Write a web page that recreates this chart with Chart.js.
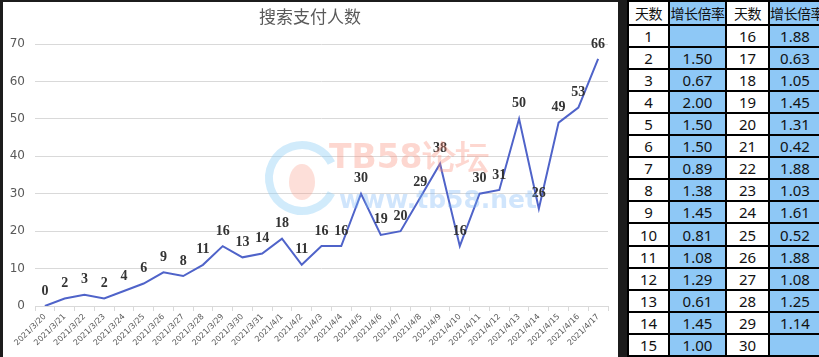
<!DOCTYPE html>
<html><head><meta charset="utf-8">
<script src="https://cdn.jsdelivr.net/npm/chart.js@4.4.0/dist/chart.umd.min.js"></script>
<style>
html,body{margin:0;padding:0;background:#1c1c1c;width:819px;height:357px;overflow:hidden;}
#wrap{position:absolute;left:3px;top:2px;width:615px;height:355px;background:#fff;}
#tbl{position:absolute;left:627px;top:0;width:193px;height:357px;border-collapse:collapse;table-layout:fixed;background:#fff;}
#tbl td{border:2px solid #000;padding:0;text-align:center;color:#111;font-family:"Noto Sans","Noto Sans CJK SC",sans-serif;font-size:15px;height:20px;line-height:20px;overflow:hidden;white-space:nowrap;}
#tbl tr.h td{height:22px;font-family:"Noto Sans CJK SC",sans-serif;font-size:14px;letter-spacing:-0.5px;}
#tbl td.b{background:#8ec8f6;}
</style></head>
<body>
<div id="wrap"><canvas id="c" width="615" height="355"></canvas></div>
<table id="tbl"><colgroup><col style="width:41px"><col style="width:57px"><col style="width:43px"><col style="width:52px"></colgroup><tbody id="tb"></tbody></table>
<script>
const chartTitle = "搜索支付人数";
const dates = ["2021/3/20","2021/3/21","2021/3/22","2021/3/23","2021/3/24","2021/3/25","2021/3/26","2021/3/27","2021/3/28","2021/3/29","2021/3/30","2021/3/31","2021/4/1","2021/4/2","2021/4/3","2021/4/4","2021/4/5","2021/4/6","2021/4/7","2021/4/8","2021/4/9","2021/4/10","2021/4/11","2021/4/12","2021/4/13","2021/4/14","2021/4/15","2021/4/16","2021/4/17"];
const payers = [0,2,3,2,4,6,9,8,11,16,13,14,18,11,16,16,30,19,20,29,38,16,30,31,50,26,49,53,66];
const yTicks = [0,10,20,30,40,50,60,70];
const tableHeaders = ["天数","增长倍率","天数","增长倍率"];
const daysA = [1,2,3,4,5,6,7,8,9,10,11,12,13,14,15];
const ratesA = ["","1.50","0.67","2.00","1.50","1.50","0.89","1.38","1.45","0.81","1.08","1.29","0.61","1.45","1.00"];
const daysB = [16,17,18,19,20,21,22,23,24,25,26,27,28,29,30];
const ratesB = ["1.88","0.63","1.05","1.45","1.31","0.42","1.88","1.03","1.61","0.52","1.88","1.08","1.25","1.14",""];

// table
const tb = document.getElementById('tb');
let hr = document.createElement('tr'); hr.className='h';
tableHeaders.forEach((t,i)=>{const td=document.createElement('td');td.textContent=t;if(i%2===1)td.className='b';hr.appendChild(td);});
tb.appendChild(hr);
for(let i=0;i<daysA.length;i++){
  const tr=document.createElement('tr');
  [[daysA[i],''],[ratesA[i],'b'],[daysB[i],''],[ratesB[i],'b']].forEach(([v,c])=>{const td=document.createElement('td');td.textContent=v;td.className=c;tr.appendChild(td);});
  tb.appendChild(tr);
}

const deco = {
  id:'deco',
  afterDatasetsDraw(chart){
    const ctx=chart.ctx; const meta=chart.getDatasetMeta(0);
    ctx.save();
    ctx.fillStyle='#333333'; ctx.font='bold 14px "Liberation Serif", serif';
    ctx.textAlign='center'; ctx.textBaseline='middle';
    meta.data.forEach((p,i)=>{ctx.fillText(String(payers[i]), p.x, p.y-15);});
    // title
    ctx.fillStyle='#595959'; ctx.font='17px "Noto Sans CJK SC", sans-serif';
    ctx.fillText(chartTitle, 307, 15);
    // watermark
    ctx.strokeStyle='rgba(140,205,245,0.4)'; ctx.lineWidth=8;
    ctx.beginPath(); ctx.arc(299,176,33,Math.PI*0.15,Math.PI*1.85); ctx.stroke();
    ctx.fillStyle='rgba(250,150,130,0.3)';
    ctx.beginPath(); ctx.ellipse(299,180,13,18,0,0,Math.PI*2); ctx.fill();
    ctx.textAlign='left';
    ctx.font='bold 33px "DejaVu Sans", sans-serif';
    ctx.fillStyle='rgba(250,140,120,0.35)';
    ctx.fillText('TB58论坛', 326, 157);
    ctx.font='bold 25px "DejaVu Sans", sans-serif';
    ctx.fillStyle='rgba(120,180,245,0.35)';
    ctx.fillText('www.tb58.net', 336, 199);
    ctx.restore();
  }
};

new Chart(document.getElementById('c'),{
  type:'line',
  data:{labels:dates,datasets:[{data:payers,borderColor:'#4f63c9',borderWidth:2,pointRadius:0,tension:0,fill:false}]},
  options:{
    responsive:false,animation:false,
    layout:{padding:{top:42,right:10,left:0,bottom:0}},
    plugins:{legend:{display:false},title:{display:false},tooltip:{enabled:false}},
    scales:{
      x:{offset:true,
        grid:{offset:true,display:true,drawOnChartArea:false,drawTicks:true,tickLength:5,color:'#d9d9d9'},
        border:{display:true,color:'#d9d9d9',width:1},
        ticks:{autoSkip:false,minRotation:45,maxRotation:45,color:'#5a5a5a',font:{size:8,family:'"DejaVu Sans", sans-serif'},padding:1},
        afterFit(s){s.height=51;}
      },
      y:{min:0,max:70,
        afterBuildTicks(s){s.ticks=yTicks.map(v=>({value:v}));},
        grid:{color:'#d9d9d9',drawTicks:false},
        border:{display:false},
        ticks:{color:'#595959',font:{size:12,family:'"DejaVu Sans", sans-serif'},padding:10},
        afterFit(s){s.width=32;}
      }
    }
  },
  plugins:[deco]
});
</script>
</body></html>
